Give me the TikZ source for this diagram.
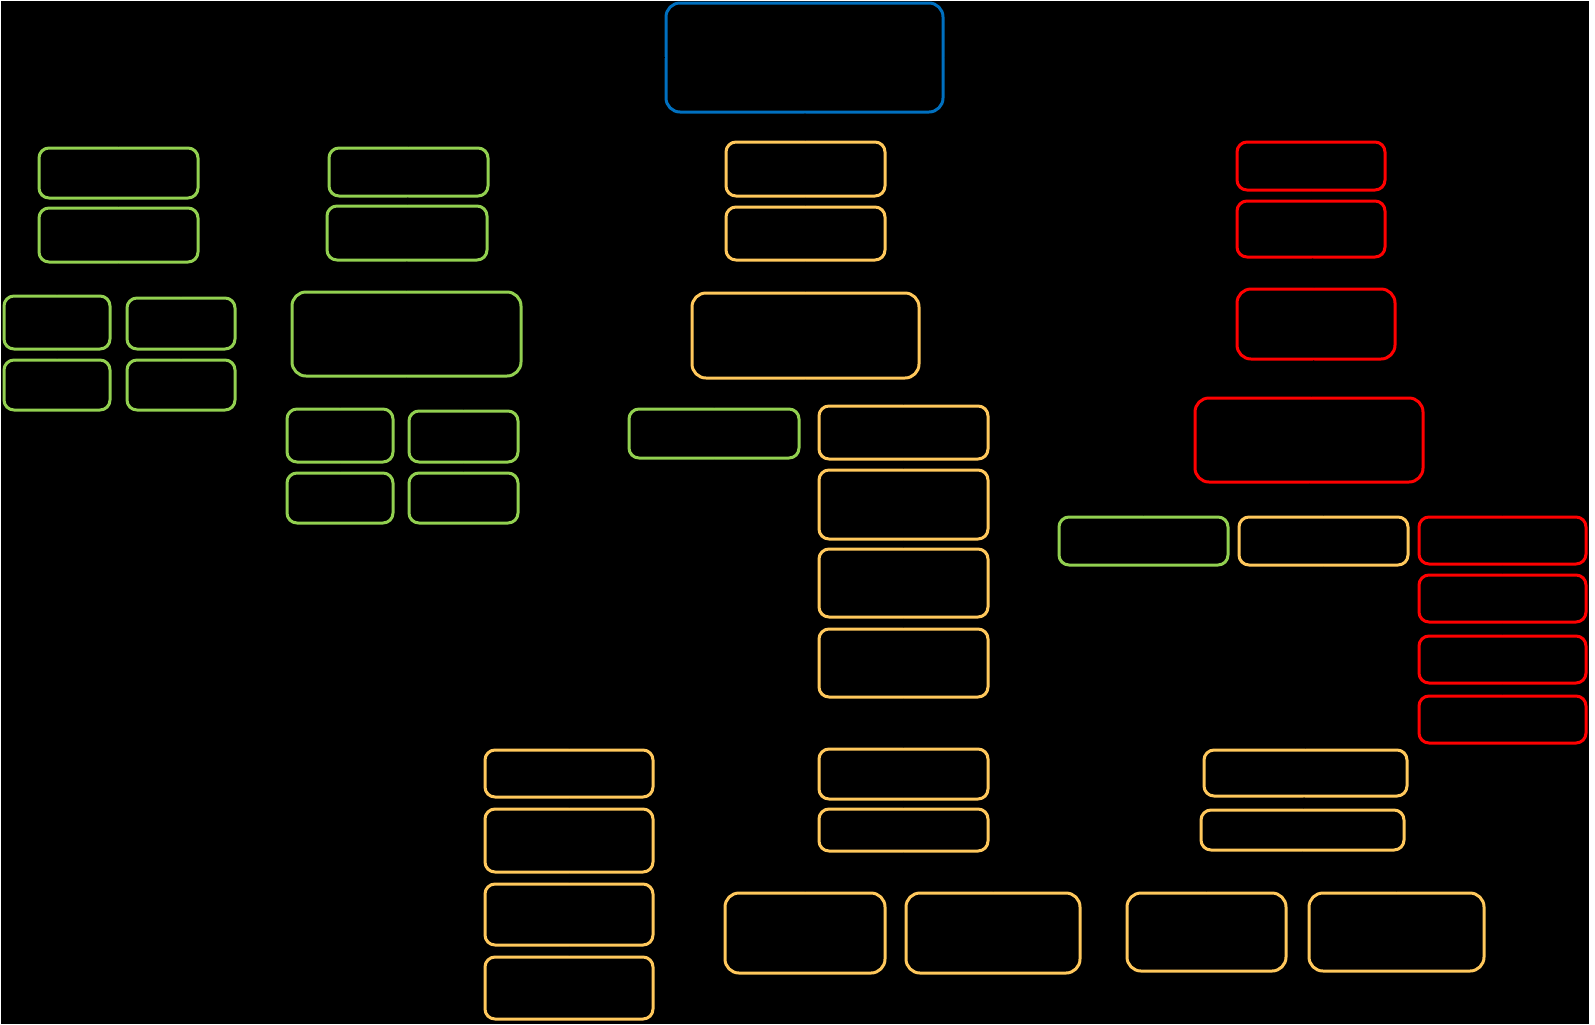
\documentclass[tikz,border=0pt]{standalone}
\usetikzlibrary{fit,arrows.meta}
\definecolor{cblue}{RGB}{0,112,192}
\definecolor{cyel}{RGB}{255,200,92}
\definecolor{cgrn}{RGB}{146,208,80}
\definecolor{cred}{RGB}{255,0,0}
\tikzset{
  bx/.style={draw=#1, line width=1.5pt, rounded corners=5pt, inner sep=0pt, fill=none},
  bigbx/.style={bx=#1, rounded corners=7pt},
  conn/.style={draw=black, line width=0.6pt, -{Stealth[length=3pt,width=3pt]}}
}
\begin{document}
\begin{tikzpicture}[x=0.5pt,y=-0.5pt]
\useasboundingbox (0,0) rectangle (1595,1024);
\fill[white] (0,0) rectangle (1595,1024);
\fill[black] (1,1) rectangle (1589,1024);
% central column
\node[bigbx=cblue, fit={(666,3)(943,112)}] (top) {};
\node[bx=cyel, fit={(726,142)(885,196)}] (y1) {};
\node[bx=cyel, fit={(726,207)(885,260)}] (y2) {};
\node[bigbx=cyel, fit={(692,293)(919,378)}] (e) {};
\node[bx=cgrn, fit={(629,409)(799,458)}] (f) {};
\node[bx=cyel, fit={(819,406)(988,459)}] (g1) {};
\node[bx=cyel, fit={(819,470)(988,539)}] (g2) {};
\node[bx=cyel, fit={(819,549)(988,617)}] (g3) {};
\node[bx=cyel, fit={(819,629)(988,697)}] (g4) {};
\node[bx=cyel, fit={(819,749)(988,799)}] (i1) {};
\node[bx=cyel, fit={(819,809)(988,851)}] (i2) {};
\node[bigbx=cyel, fit={(725,893)(885,973)}] (j1) {};
\node[bigbx=cyel, fit={(906,893)(1080,973)}] (j2) {};
\node[bx=cyel, fit={(485,750)(653,797)}] (h1) {};
\node[bx=cyel, fit={(485,809)(653,872)}] (h2) {};
\node[bx=cyel, fit={(485,884)(653,945)}] (h3) {};
\node[bx=cyel, fit={(485,957)(653,1019)}] (h4) {};
% right-bottom
\node[bx=cyel, fit={(1204,750)(1407,796)}] (k1) {};
\node[bx=cyel, fit={(1201,810)(1404,850)}] (k2) {};
\node[bigbx=cyel, fit={(1127,893)(1286,971)}] (l1) {};
\node[bigbx=cyel, fit={(1309,893)(1484,971)}] (l2) {};
% left green
\node[bx=cgrn, fit={(39,148)(198,198)}] (a1) {};
\node[bx=cgrn, fit={(39,208)(198,262)}] (a2) {};
\node[bx=cgrn, fit={(4,296)(110,349)}] (b1) {};
\node[bx=cgrn, fit={(127,298)(235,349)}] (b2) {};
\node[bx=cgrn, fit={(4,360)(110,410)}] (b3) {};
\node[bx=cgrn, fit={(127,360)(235,410)}] (b4) {};
\node[bx=cgrn, fit={(329,148)(488,196)}] (c1) {};
\node[bx=cgrn, fit={(327,206)(487,260)}] (c2) {};
\node[bigbx=cgrn, fit={(292,292)(521,376)}] (c3) {};
\node[bx=cgrn, fit={(287,409)(393,462)}] (d1) {};
\node[bx=cgrn, fit={(409,411)(518,462)}] (d2) {};
\node[bx=cgrn, fit={(287,473)(393,523)}] (d3) {};
\node[bx=cgrn, fit={(409,473)(518,523)}] (d4) {};
% red
\node[bx=cred, fit={(1237,142)(1385,190)}] (r1) {};
\node[bx=cred, fit={(1237,201)(1385,257)}] (r2) {};
\node[bigbx=cred, fit={(1237,289)(1395,359)}] (r3) {};
\node[bigbx=cred, fit={(1195,398)(1423,482)}] (r4) {};
\node[bx=cgrn, fit={(1059,517)(1228,565)}] (m) {};
\node[bx=cyel, fit={(1239,517)(1408,565)}] (n) {};
\node[bx=cred, fit={(1419,517)(1586,564)}] (s1) {};
\node[bx=cred, fit={(1419,575)(1586,622)}] (s2) {};
\node[bx=cred, fit={(1419,636)(1586,683)}] (s3) {};
\node[bx=cred, fit={(1419,696)(1586,743)}] (s4) {};
% connectors (black, as in the reference)
\draw[conn] (top) -- (y1);
\draw[conn] (y1) -- (y2);
\draw[conn] (y2) -- (e);
\draw[conn] (e.south) -- ++(0,14) -| (g1.north);
\draw[conn] (e.south) -- ++(0,14) -| (f.north);
\draw[conn] (g1) -- (g2);
\draw[conn] (g2) -- (g3);
\draw[conn] (g3) -- (g4);
\draw[conn] (g4) -- (i1);
\draw[conn] (i1) -- (i2);
\draw[conn] (i2.south) -- ++(0,20) -| (j1.north);
\draw[conn] (i2.south) -- ++(0,20) -| (j2.north);
\draw[conn] (f.south) -- ++(0,272) -| (h1.north);
\draw[conn] (h1) -- (h2);
\draw[conn] (h2) -- (h3);
\draw[conn] (h3) -- (h4);
\draw[conn] (top.west) -| (a1.north);
\draw[conn] (top.west) -| (c1.north);
\draw[conn] (top.east) -| (r1.north);
\draw[conn] (a1) -- (a2);
\draw[conn] (a2.south) -- ++(0,16) -| (b1.north);
\draw[conn] (a2.south) -- ++(0,16) -| (b2.north);
\draw[conn] (b1) -- (b3);
\draw[conn] (b2) -- (b4);
\draw[conn] (c1) -- (c2);
\draw[conn] (c2) -- (c3);
\draw[conn] (c3.south) -- ++(0,16) -| (d1.north);
\draw[conn] (c3.south) -- ++(0,16) -| (d2.north);
\draw[conn] (d1) -- (d3);
\draw[conn] (d2) -- (d4);
\draw[conn] (r1) -- (r2);
\draw[conn] (r2) -- (r3);
\draw[conn] (r3) -- (r4);
\draw[conn] (r4.south) -- ++(0,17) -| (m.north);
\draw[conn] (r4.south) -- ++(0,17) -| (n.north);
\draw[conn] (r4.south) -- ++(0,17) -| (s1.north);
\draw[conn] (s1) -- (s2);
\draw[conn] (s2) -- (s3);
\draw[conn] (s3) -- (s4);
\draw[conn] (n.south) -- ++(0,165) -| (k1.north);
\draw[conn] (k1) -- (k2);
\draw[conn] (k2.south) -- ++(0,20) -| (l1.north);
\draw[conn] (k2.south) -- ++(0,20) -| (l2.north);
\end{tikzpicture}
\end{document}
